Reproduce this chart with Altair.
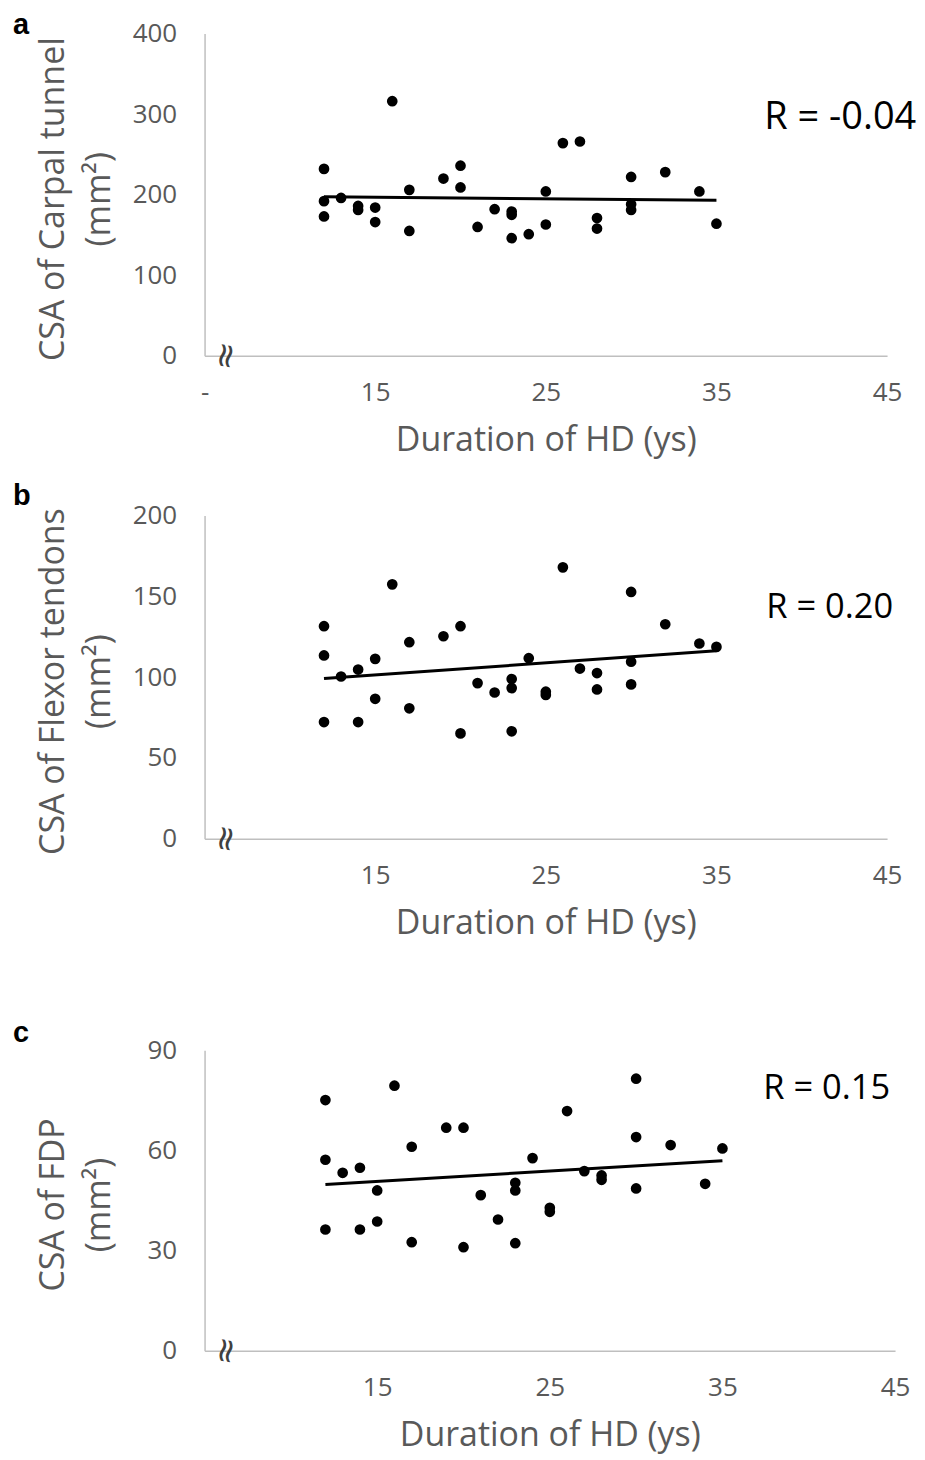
import altair as alt
import pandas as pd

# ---------------- data ----------------
dur_a = [12, 12, 12, 13, 14, 14, 15, 15, 16, 17, 17, 19, 20, 20, 21, 22,
         23, 23, 23, 24, 25, 25, 26, 27, 28, 28, 30, 30, 30, 32, 34, 35]
csa_a = [232, 192, 173, 196, 186, 181, 184, 166, 316, 206, 155, 220, 236, 209, 160, 182,
         179, 175, 146, 151, 204, 163, 264, 266, 171, 158, 222, 188, 181, 228, 204, 164]

dur_b = [12, 12, 12, 13, 14, 14, 15, 15, 16, 17, 17, 19, 20, 20, 21, 22,
         23, 23, 23, 24, 25, 25, 26, 27, 28, 28, 30, 30, 30, 32, 34, 35]
csa_b = [131.5, 113.4, 72.2, 100.4, 104.7, 72.2, 111.3, 86.6, 157.4, 121.6, 80.7, 125.3,
         131.5, 65.2, 96.3, 90.5, 98.8, 93.2, 66.5, 111.7, 91.0, 89.0, 167.9, 105.3,
         102.5, 92.4, 152.7, 109.5, 95.5, 132.7, 120.8, 118.7]

dur_c = [12, 12, 12, 13, 14, 14, 15, 15, 16, 17, 17, 19, 20, 20, 21, 22,
         23, 23, 23, 24, 25, 25, 26, 27, 28, 28, 30, 30, 30, 32, 34, 35]
csa_c = [75.1, 57.2, 36.3, 53.3, 54.8, 36.3, 48.0, 38.7, 79.4, 61.1, 32.5, 66.8,
         66.8, 31.0, 46.6, 39.3, 50.3, 48.0, 32.2, 57.7, 42.8, 41.6, 71.8, 53.8,
         52.5, 51.2, 81.5, 64.0, 48.6, 61.6, 50.0, 60.6]

x_ticks = [15, 25, 35, 45]
x_title = "Duration of HD (ys)"
ytitle_a = ["CSA of Carpal tunnel", "(mm²)"]
ytitle_b = ["CSA of Flexor tendons", "(mm²)"]
ytitle_c = ["CSA of FDP", "(mm²)"]
yticks_a = [0, 100, 200, 300, 400]
yticks_b = [0, 50, 100, 150, 200]
yticks_c = [0, 30, 60, 90]
r_labels = ["R = -0.04", "R = 0.20", "R = 0.15"]
letters = ["a", "b", "c"]

FONT = "Open Sans"
GRAY = "#595959"
AXIS_GRAY = "#bfbfbf"


def panel(dur, vals, yticks, ytitle, letter, letter_y, rtext, r_x, r_y, r_size,
          width, height, xvals, labelexpr, xtitle_pad):
    df = pd.DataFrame({"dur": dur, "csa": vals})
    ymax = yticks[-1]
    xenc = alt.X(
        "dur:Q",
        scale=alt.Scale(domain=[5, 45], nice=False, zero=False),
        axis=alt.Axis(
            values=xvals, labelExpr=labelexpr, title=x_title, grid=False,
            ticks=False, tickSize=0, domainColor=AXIS_GRAY, domainWidth=1.5,
            labelFont=FONT, labelFontSize=26, labelColor=GRAY, labelPadding=24,
            labelFlush=False,
            titleFont=FONT, titleFontSize=34, titleColor=GRAY,
            titleFontWeight="normal", titlePadding=xtitle_pad,
        ),
    )
    yenc = alt.Y(
        "csa:Q",
        scale=alt.Scale(domain=[0, ymax], nice=False),
        axis=alt.Axis(
            values=yticks, title=ytitle, grid=False, ticks=False, tickSize=0,
            domainColor=AXIS_GRAY, domainWidth=1.5,
            labelFont=FONT, labelFontSize=26, labelColor=GRAY, labelPadding=28,
            titleFont=FONT, titleFontSize=34, titleColor=GRAY,
            titleFontWeight="normal", titleLineHeight=46,
            titleX=-134, titleY=height / 2 + 4, titleBaseline="bottom",
        ),
    )
    base = alt.Chart(df)
    points = base.mark_circle(size=115, color="black", opacity=1).encode(x=xenc, y=yenc)
    trend = (
        base.transform_regression("dur", "csa", extent=[12, 35])
        .mark_line(color="black", strokeWidth=3)
        .encode(x="dur:Q", y="csa:Q")
    )
    brk = (
        alt.Chart(pd.DataFrame({"s": ["≈"]}))
        .mark_text(font="DejaVu Sans", fontSize=34, color="#404040", angle=100)
        .encode(text="s:N", x=alt.datum(6.2), y=alt.datum(0))
    )
    let = (
        alt.Chart(pd.DataFrame({"t": [letter]}))
        .mark_text(font="Liberation Sans", fontWeight="bold", fontSize=29,
                   color="black", align="left", baseline="alphabetic")
        .encode(text="t:N", x=alt.value(-192), y=alt.value(letter_y))
    )
    rt = (
        alt.Chart(pd.DataFrame({"r": [rtext]}))
        .mark_text(font=FONT, fontSize=r_size, color="black", align="left",
                   baseline="middle")
        .encode(text="r:N", x=alt.value(r_x), y=alt.value(r_y))
    )
    return alt.layer(points, trend, brk, let, rt).properties(width=width, height=height)


pa = panel(dur_a, csa_a, yticks_a, ytitle_a, letters[0], 0, r_labels[0], 561, 85, 38,
           684, 323, [5] + x_ticks, "datum.value == 5 ? '-' : datum.label", 18)
pb = panel(dur_b, csa_b, yticks_b, ytitle_b, letters[1], -11, r_labels[1], 563, 93, 34.5,
           684, 324, x_ticks, "datum.label", 18)
pc = panel(dur_c, csa_c, yticks_c, ytitle_c, letters[2], -8, r_labels[2], 560, 39, 34.5,
           692, 301, x_ticks, "datum.label", 18)

top = alt.vconcat(pa, pb, spacing=24)
chart = (
    alt.vconcat(top, pc, spacing=79)
    .properties(padding={"left": 5, "top": 1, "right": 0, "bottom": 6})
    .configure_view(stroke=None)
)

chart.save("out.html", embed_options={"renderer": "svg", "actions": False})
